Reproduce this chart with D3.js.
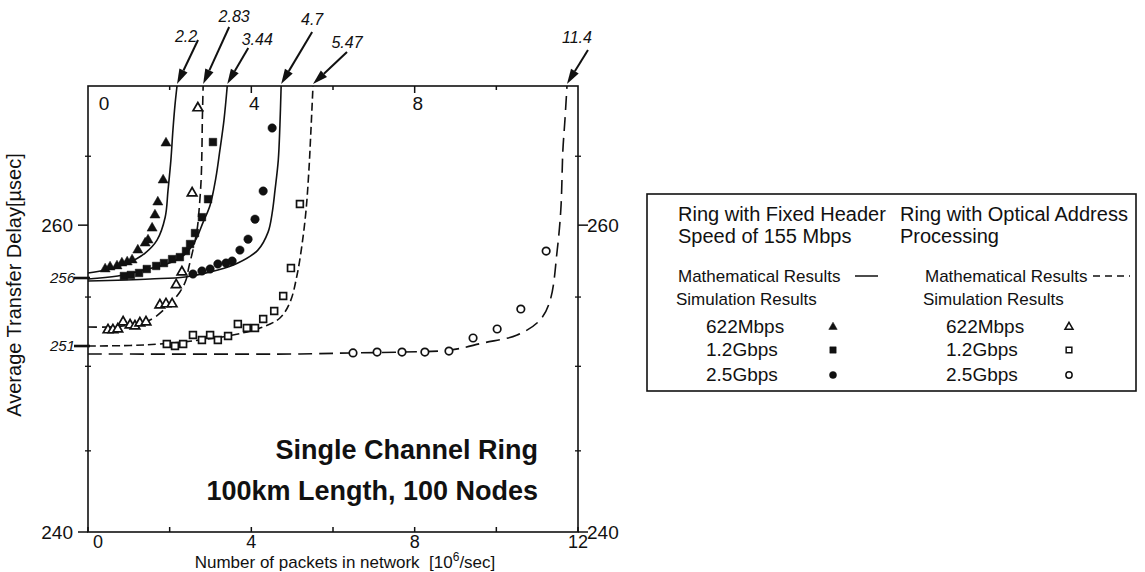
<!DOCTYPE html>
<meta charset="utf-8">
<script src="https://d3js.org/d3.v7.min.js"></script>
<style>
  body { margin: 0; background: #fff; }
  text { font-family: "Liberation Sans", Arial, Helvetica, sans-serif; fill: #111; }
</style>

<!-- Create a div where the graph will take place -->
<div id="my_dataviz"></div>
<script>

  // axis values
  var xTicks = [0, 2, 4, 6, 8, 10, 12];
  var xLabels = [0, 4, 8, 12];
  var yBreaks = [240, 251, 256, 260, 270.5];
  var yLabels = [240, 260];
  var yMinorTicks = [244.8, 249.8, 254.6, 265.2];
  var yStartLabels = [256, 251];

  // mathematical results [packets 10^6/sec, delay usec]
  var mathFixed622 = [[0, 256.38], [0.42, 256.6], [0.98, 257.13], [1.4, 257.89], [1.69, 258.87], [1.89, 260.6],
    [1.96, 262.64], [2.03, 264.91], [2.08, 267.18], [2.13, 269.06], [2.18, 270.5]];
  var mathFixed12 = [[0, 255.93], [0.73, 256.15], [1.57, 256.75], [2.06, 257.21], [2.38, 257.81], [2.62, 258.79],
    [2.82, 260.23], [2.99, 261.51], [3.13, 263.55], [3.23, 265.66], [3.33, 267.93], [3.41, 270.5]];
  var mathFixed25 = [[0, 255.78], [1.52, 255.93], [2.38, 256.08], [3.18, 256.6], [3.67, 257.13], [4.16, 258.11],
    [4.41, 259.47], [4.51, 260.91], [4.58, 262.64], [4.66, 264.91], [4.7, 267.55], [4.73, 270.5]];
  var mathOptical622 = [[0, 252.4], [0.47, 252.4], [1.03, 252.54], [1.52, 252.91], [1.93, 253.87], [2.25, 254.97],
    [2.4, 255.85], [2.47, 256.83], [2.57, 258.11], [2.67, 259.62], [2.72, 261.13], [2.77, 263.4], [2.79, 265.66],
    [2.8, 267.93], [2.82, 270.5]];
  var mathOptical12 = [[0, 251], [1.03, 251.04], [1.76, 251.15], [2.74, 251.44], [3.55, 251.81], [4.21, 252.32],
    [4.7, 253.06], [4.95, 254.24], [5.12, 256.23], [5.24, 258.49], [5.34, 261.13], [5.41, 264.15], [5.46, 267.18],
    [5.51, 270.5]];
  var mathOptical25 = [[0, 250.53], [5.19, 250.53], [6.42, 250.59], [7.64, 250.64], [8.87, 250.76], [9.67, 251.22],
    [10.51, 251.81], [11.07, 252.91], [11.32, 254.38], [11.49, 258.08], [11.58, 261.2], [11.63, 265.66],
    [11.68, 267.93], [11.73, 270.5]];

  // simulation results
  var simFixed622 = [[0.42, 256.68], [0.54, 256.83], [0.71, 256.91], [0.83, 257.13], [0.96, 257.21], [1.08, 257.36],
    [1.22, 258.11], [1.4, 258.64], [1.47, 258.87], [1.57, 259.77], [1.64, 260.76], [1.71, 261.74], [1.84, 263.4],
    [1.91, 266.19]];
  var simFixed12 = [[0.88, 256.15], [1.05, 256.23], [1.25, 256.38], [1.44, 256.68], [1.67, 256.91], [1.86, 257.13],
    [2.06, 257.43], [2.25, 257.58], [2.4, 258.04], [2.5, 258.57], [2.62, 259.4], [2.79, 260.6], [2.94, 261.96],
    [3.06, 266.27]];
  var simFixed25 = [[2.57, 256.3], [2.79, 256.53], [2.99, 256.68], [3.18, 257.06], [3.38, 257.13], [3.53, 257.28],
    [3.72, 258.11], [3.92, 258.94], [4.09, 260.45], [4.29, 262.57], [4.51, 267.33]];
  var simOptical622 = [[0.49, 252.18], [0.61, 252.18], [0.73, 252.25], [0.86, 252.76], [1.03, 252.54], [1.15, 252.47],
    [1.27, 252.69], [1.42, 252.76], [1.76, 254.01], [1.91, 254.09], [2.06, 254.09], [2.16, 255.49], [2.3, 256.45],
    [2.55, 262.42], [2.69, 268.84]];
  var simOptical12 = [[1.93, 251.15], [2.13, 251], [2.33, 251.15], [2.57, 251.81], [2.79, 251.44], [2.99, 251.81],
    [3.18, 251.44], [3.43, 251.74], [3.67, 252.62], [3.89, 252.32], [4.09, 252.32], [4.29, 252.99], [4.56, 253.57],
    [4.78, 254.68], [4.97, 256.75], [5.19, 261.59]];
  var simOptical25 = [[6.49, 250.59], [7.08, 250.64], [7.69, 250.64], [8.25, 250.64], [8.84, 250.7], [9.43, 251.59],
    [10.02, 252.25], [10.6, 253.72], [11.22, 258.04]];

  // saturation points marked with arrows
  var saturation = ["2.2", "2.83", "3.44", "4.7", "5.47", "11.4"];

  // legend texts
  var legendHeads = [["Ring with Fixed Header", "Speed of 155 Mbps"], ["Ring with Optical Address", "Processing"]];
  var legendRates = ["622Mbps", "1.2Gbps", "2.5Gbps"];

  // set the dimensions and margins of the graph
  var margin = { top: 86, left: 88 },
    width = 490,
    height = 446;

  var svg = d3.select("#my_dataviz")
    .append("svg")
    .attr("width", 1145)
    .attr("height", 572);

  var g = svg.append("g")
    .attr("transform", "translate(" + margin.left + "," + margin.top + ")");

  var x = d3.scaleLinear().domain([0, 12]).range([0, width]);
  // the scanned axis is not evenly spaced, so use a piecewise scale
  var y = d3.scaleLinear().domain(yBreaks)
    .range([1, 0.583, 0.4305, 0.312, 0].map(function (f) { return f * height; }));

  // frame
  g.append("rect")
    .attr("width", width).attr("height", height)
    .attr("fill", "none").attr("stroke", "#111").attr("stroke-width", 1.6);

  // top ticks + labels inside the frame
  g.selectAll(".ttick").data(xTicks.slice(1, -1)).enter().append("line")
    .attr("x1", x).attr("x2", x)
    .attr("y1", 0).attr("y2", function (d) { return d % 4 === 0 ? 7 : 4; })
    .attr("stroke", "#111").attr("stroke-width", 1.5);
  g.selectAll(".tlab").data(xLabels.slice(0, -1)).enter().append("text")
    .attr("x", function (d) { return x(d) + (d === 0 ? 16 : 3); })
    .attr("y", 24)
    .attr("text-anchor", "middle").style("font-size", "19px")
    .text(function (d) { return d; });

  // bottom ticks + labels
  g.selectAll(".btick").data(xTicks).enter().append("line")
    .attr("x1", x).attr("x2", x)
    .attr("y1", height - 5).attr("y2", height)
    .attr("stroke", "#111").attr("stroke-width", 1.5);
  g.selectAll(".blab").data(xLabels).enter().append("text")
    .attr("x", function (d) { return x(d) + (d === 0 ? 10 : 0); })
    .attr("y", height + 16)
    .attr("text-anchor", "middle").style("font-size", "18px")
    .text(function (d) { return d; });

  // left and right y ticks
  [0, width].forEach(function (side) {
    var dir = side === 0 ? -1 : 1;
    g.selectAll(null).data(yLabels).enter().append("line")
      .attr("x1", side).attr("x2", side + dir * 10)
      .attr("y1", y).attr("y2", y)
      .attr("stroke", "#111").attr("stroke-width", 1.5);
    g.selectAll(null).data(yLabels).enter().append("text")
      .attr("x", side + dir * (side === 0 ? 15 : 9))
      .attr("y", y).attr("dy", "0.35em")
      .attr("text-anchor", side === 0 ? "end" : "start")
      .style("font-size", "19px")
      .text(function (d) { return d; });
    g.selectAll(null).data(yMinorTicks).enter().append("line")
      .attr("x1", side - 3).attr("x2", side + 3)
      .attr("y1", y).attr("y2", y)
      .attr("stroke", "#111").attr("stroke-width", 1.3);
  });

  // starting delays marked on the left axis
  g.selectAll(".slab").data(yStartLabels).enter().append("line")
    .attr("x1", -14).attr("x2", 2)
    .attr("y1", y).attr("y2", y)
    .attr("stroke", "#111").attr("stroke-width", 2.6);
  g.selectAll(".stext").data(yStartLabels).enter().append("text")
    .attr("x", -13).attr("y", y).attr("dy", "0.35em")
    .attr("text-anchor", "end")
    .style("font-size", "15px").style("font-style", "italic")
    .text(function (d) { return d; });

  // axis titles
  svg.append("text")
    .attr("transform", "translate(21,285) rotate(-90)")
    .attr("text-anchor", "middle").style("font-size", "20px")
    .text("Average Transfer Delay[\u00b5sec]");
  var xt = svg.append("text")
    .attr("x", 345).attr("y", 568)
    .attr("text-anchor", "middle").style("font-size", "17px")
    .attr("xml:space", "preserve");
  xt.append("tspan").text("Number of packets in network  [10");
  xt.append("tspan").attr("dy", -7).style("font-size", "12px").text("6");
  xt.append("tspan").attr("dy", 7).text("/sec]");

  // chart caption
  g.append("text")
    .attr("x", 450).attr("y", 373)
    .attr("text-anchor", "end").style("font-size", "27px").style("font-weight", "bold")
    .text("Single Channel Ring");
  g.append("text")
    .attr("x", 450).attr("y", 414)
    .attr("text-anchor", "end").style("font-size", "27px").style("font-weight", "bold")
    .text("100km Length, 100 Nodes");

  // mathematical curves
  var line = d3.line()
    .x(function (d) { return x(d[0]); })
    .y(function (d) { return y(d[1]); })
    .curve(d3.curveCatmullRom.alpha(0.5));

  var curves = [
    { data: mathFixed622, dash: null },
    { data: mathOptical622, dash: "9,5" },
    { data: mathFixed12, dash: null },
    { data: mathFixed25, dash: null },
    { data: mathOptical12, dash: "8,4" },
    { data: mathOptical25, dash: "14,7" }
  ];

  curves.forEach(function (c) {
    g.append("path")
      .datum(c.data)
      .attr("fill", "none")
      .attr("stroke", "#111")
      .attr("stroke-width", 1.6)
      .attr("stroke-dasharray", c.dash)
      .attr("d", line);
  });

  // simulation points
  var sims = [
    { data: simFixed622, type: d3.symbolTriangle, size: 44, open: false },
    { data: simFixed12, type: d3.symbolSquare, size: 58, open: false },
    { data: simFixed25, type: d3.symbolCircle, size: 56, open: false },
    { data: simOptical622, type: d3.symbolTriangle, size: 40, open: true },
    { data: simOptical12, type: d3.symbolSquare, size: 46, open: true },
    { data: simOptical25, type: d3.symbolCircle, size: 44, open: true }
  ];

  sims.forEach(function (s) {
    g.selectAll(null).data(s.data).enter().append("path")
      .attr("transform", function (d) { return "translate(" + x(d[0]) + "," + y(d[1]) + ")"; })
      .attr("d", d3.symbol().type(s.type).size(s.size))
      .attr("fill", s.open ? "#fff" : "#111")
      .attr("stroke", "#111")
      .attr("stroke-width", s.open ? 1.7 : 0.5);
  });

  // arrows pointing at the saturation of each curve
  // rise/run of each arrow shaft and where its label sits next to the tail
  var arrowLayout = [
    { rise: 44, run: 21, lx: -12, ly: 2 },
    { rise: 57, run: 26, lx: 5, ly: -5 },
    { rise: 36, run: 21, lx: 9, ly: -3 },
    { rise: 52, run: 31, lx: 0, ly: -7 },
    { rise: 32, run: 34, lx: 0, ly: -4 },
    { rise: 34, run: 21, lx: -11, ly: -7 }
  ];
  saturation.forEach(function (label, i) {
    var top = curves[i].data[curves[i].data.length - 1];
    var a = arrowLayout[i];
    var tx = x(top[0]), ty = -2;
    var ang = Math.atan2(a.rise, -a.run);
    var hl = 15, hw = 4.5;
    var bx = tx - hl * Math.cos(ang), by = ty - hl * Math.sin(ang);
    var px = -Math.sin(ang) * hw, py = Math.cos(ang) * hw;
    g.append("line")
      .attr("x1", tx + a.run).attr("y1", ty - a.rise)
      .attr("x2", bx).attr("y2", by)
      .attr("stroke", "#111").attr("stroke-width", 2);
    g.append("path")
      .attr("d", "M" + tx + "," + ty + "L" + (bx + px) + "," + (by + py) + "L" + (bx - px) + "," + (by - py) + "Z")
      .attr("fill", "#111");
    g.append("text")
      .attr("x", tx + a.run + a.lx).attr("y", ty - a.rise + a.ly)
      .attr("text-anchor", "middle")
      .style("font-size", "16px").style("font-style", "italic")
      .text(label);
  });

  // legend
  var lg = svg.append("g");
  lg.append("rect")
    .attr("x", 647).attr("y", 194).attr("width", 489).attr("height", 197)
    .attr("fill", "none").attr("stroke", "#111").attr("stroke-width", 1.6);

  var colX = [678, 900];
  legendHeads.forEach(function (h, c) {
    lg.append("text").attr("x", colX[c]).attr("y", 221).style("font-size", "20px").text(h[0]);
    lg.append("text").attr("x", colX[c]).attr("y", 243).style("font-size", "20px").text(h[1]);
    var indent = c === 0 ? 0 : 25;
    lg.append("text").attr("x", colX[c] + indent).attr("y", 282).style("font-size", "17px")
      .text("Mathematical Results");
    lg.append("text").attr("x", colX[c] + indent - 2).attr("y", 305).style("font-size", "17px")
      .text("Simulation Results");
  });
  lg.append("line").attr("x1", 855).attr("x2", 878).attr("y1", 276).attr("y2", 276)
    .attr("stroke", "#111").attr("stroke-width", 1.5);
  lg.append("line").attr("x1", 1093).attr("x2", 1130).attr("y1", 276).attr("y2", 276)
    .attr("stroke", "#111").attr("stroke-width", 1.5).attr("stroke-dasharray", "7,5");

  var rateY = [333, 356, 381];
  legendRates.forEach(function (r, i) {
    [0, 1].forEach(function (c) {
      lg.append("text")
        .attr("x", colX[c] + (c === 0 ? 28 : 46)).attr("y", rateY[i])
        .style("font-size", "19px").text(r);
      var s = sims[c * 3 + i];
      lg.append("path")
        .attr("transform", "translate(" + (c === 0 ? 833 : 1069) + "," + (rateY[i] - 6) + ")")
        .attr("d", d3.symbol().type(s.type).size(s.size * 0.7))
        .attr("fill", s.open ? "#fff" : "#111")
        .attr("stroke", "#111")
        .attr("stroke-width", s.open ? 1.5 : 0.5);
    });
  });

</script>
